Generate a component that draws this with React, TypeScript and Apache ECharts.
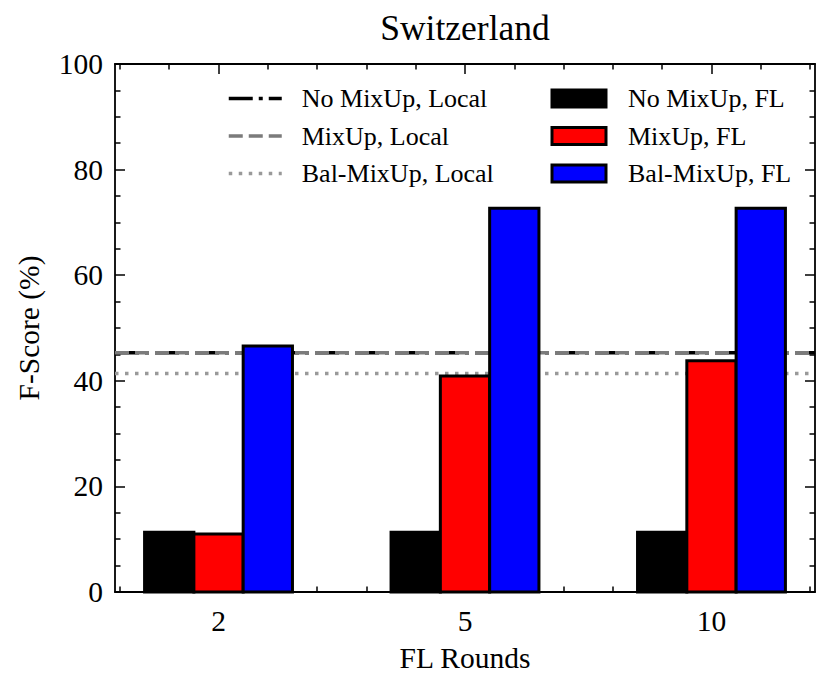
import React, { useEffect, useRef } from "react";
import * as echarts from "echarts";

// ---- data ----
const categories = ["2", "5", "10"];
const noMixupFL = [11.3, 11.3, 11.3];
const mixupFL = [11.0, 40.9, 43.8];
const balMixupFL = [46.6, 72.7, 72.7];
const flNames = ["No MixUp, FL", "MixUp, FL", "Bal-MixUp, FL"];
const localNames = ["No MixUp, Local", "MixUp, Local", "Bal-MixUp, Local"];
const localValues = [45.3, 45.3, 41.4];
const majorXTicks = [0, 1, 2];
const minorXTicks = [-0.4, -0.2, 0.2, 0.4, 0.6, 0.8, 1.2, 1.4, 1.6, 1.8, 2.2, 2.4];
const yMin = 0;
const yMax = 100;
const yInterval = 20;

// ---- styling ----
const FONT = "'Liberation Serif', 'Times New Roman', serif";
const XMIN = -0.42;
const XMAX = 2.42;
const BAR_W = 0.2;
const barOffsets = [-0.2, 0, 0.2];
const barColors = ["#000000", "#ff0000", "#0000ff"];
const lineColors = ["#000000", "#7b7b7b", "#999999"];
const LINE_W = 3.5;
const lineDashes: number[][] = [
  [24, 6, 4, 6],
  [14, 6],
  [3.5, 6.5],
];

const AXIS_LINE = { show: true, onZero: false, lineStyle: { color: "#000", width: 1.8 } };
const TICK_STYLE = { color: "#000", width: 1.5 };

function xAxisDef(position: string, ticks: number[], len: number, withLine: boolean, withLabel: boolean) {
  const ax: any = {
    type: "value",
    position,
    min: XMIN,
    max: XMAX,
    axisLine: withLine ? AXIS_LINE : { show: false, onZero: false },
    axisTick: { show: true, inside: true, length: len, lineStyle: TICK_STYLE, customValues: ticks },
    axisLabel: withLabel
      ? {
          show: true,
          customValues: ticks,
          formatter: (v: number) => categories[Math.round(v)] ?? "",
          margin: 14,
          fontSize: 29.5,
          fontFamily: FONT,
          color: "#000",
        }
      : { show: false },
    splitLine: { show: false },
  };
  if (withLabel) {
    ax.name = "FL Rounds";
    ax.nameLocation = "middle";
    ax.nameGap = 51;
    ax.nameTextStyle = { fontSize: 29.5, fontFamily: FONT, color: "#000" };
  }
  return ax;
}

function yAxisDef(position: string, withLabel: boolean) {
  const ax: any = {
    type: "value",
    position,
    min: yMin,
    max: yMax,
    interval: yInterval,
    axisLine: AXIS_LINE,
    axisTick: { show: true, inside: true, length: 10, lineStyle: TICK_STYLE },
    minorTick: { show: true, splitNumber: 4, length: 5.5, lineStyle: TICK_STYLE },
    splitLine: { show: false },
    minorSplitLine: { show: false },
    axisLabel: withLabel
      ? { show: true, margin: 12, fontSize: 29.5, fontFamily: FONT, color: "#000" }
      : { show: false },
  };
  if (withLabel) {
    ax.name = "F-Score (%)";
    ax.nameLocation = "middle";
    ax.nameGap = 71;
    ax.nameTextStyle = { fontSize: 29.5, fontFamily: FONT, color: "#000" };
  }
  return ax;
}

export default function App() {
  const ref = useRef<HTMLDivElement>(null);

  useEffect(() => {
    if (!ref.current) return;
    const chart = echarts.init(ref.current, undefined, { renderer: "svg" });

    const flValues = [noMixupFL, mixupFL, balMixupFL];

    const lineSeries = localNames.map((name, i) => ({
      type: "line",
      name,
      xAxisIndex: 0,
      yAxisIndex: 0,
      data: [
        [XMIN, localValues[i]],
        [XMAX, localValues[i]],
      ],
      symbol: "none",
      showSymbol: false,
      silent: true,
      z: 1,
      lineStyle: { color: lineColors[i], width: LINE_W, type: lineDashes[i], cap: "butt" },
      itemStyle: { color: lineColors[i] },
    }));

    const barSeries = flNames.map((name, s) => ({
      type: "custom",
      name,
      xAxisIndex: 0,
      yAxisIndex: 0,
      z: 3,
      silent: true,
      data: flValues[s].map((v, i) => [i, v]),
      encode: { x: 0, y: 1 },
      itemStyle: { color: barColors[s], borderColor: "#000", borderWidth: 3 },
      renderItem: (params: any, api: any) => {
        const xc = api.value(0) + barOffsets[s];
        const v = api.value(1);
        const tl = api.coord([xc - BAR_W / 2, v]);
        const br = api.coord([xc + BAR_W / 2, 0]);
        return {
          type: "rect",
          shape: { x: tl[0], y: tl[1], width: br[0] - tl[0], height: br[1] - tl[1] },
          style: { fill: barColors[s], stroke: "#000", lineWidth: 3 },
        };
      },
    }));

    const option: any = {
      animation: false,
      backgroundColor: "#ffffff",
      title: {
        text: "Switzerland",
        left: 465,
        top: 10,
        padding: 0,
        textAlign: "center",
        textStyle: { fontFamily: FONT, fontSize: 35.5, fontWeight: "normal", color: "#000" },
      },
      grid: { left: 115, right: 15, top: 64, bottom: 94, containLabel: false },
      legend: [
        {
          data: localNames.map((n, i) => ({
            name: n,
            itemStyle: { opacity: 0 },
            lineStyle: { color: lineColors[i], width: LINE_W, type: lineDashes[i], cap: "butt", opacity: 1 },
          })),
          orient: "vertical",
          left: 227,
          top: 85.5,
          padding: 0,
          itemWidth: 53,
          itemHeight: 20,
          itemGap: 11.5,
          selectedMode: false,
          itemStyle: { opacity: 0 },
          lineStyle: { width: LINE_W },
          textStyle: { fontFamily: FONT, fontSize: 26, color: "#000", padding: [0, 0, 0, 15] },
        },
        {
          data: flNames.map((n, i) => ({
            name: n,
            icon: "rect",
            itemStyle: { color: barColors[i], borderColor: "#000", borderWidth: 3 },
          })),
          orient: "vertical",
          left: 550.5,
          top: 85.5,
          padding: 0,
          itemWidth: 54,
          itemHeight: 17,
          itemGap: 11.5,
          selectedMode: false,
          textStyle: { fontFamily: FONT, fontSize: 26, color: "#000", padding: [0, 0, 0, 17] },
        },
      ],
      xAxis: [
        xAxisDef("bottom", majorXTicks, 10, true, true),
        xAxisDef("bottom", minorXTicks, 5.5, false, false),
        xAxisDef("top", majorXTicks, 10, true, false),
        xAxisDef("top", minorXTicks, 5.5, false, false),
      ],
      yAxis: [yAxisDef("left", true), yAxisDef("right", false)],
      series: [...lineSeries, ...barSeries],
    };

    chart.setOption(option);
    return () => {
      chart.dispose();
    };
  }, []);

  return (
    <div
      ref={ref}
      style={{ position: "fixed", left: 0, top: 0, width: 830, height: 686, background: "#fff" }}
    />
  );
}
